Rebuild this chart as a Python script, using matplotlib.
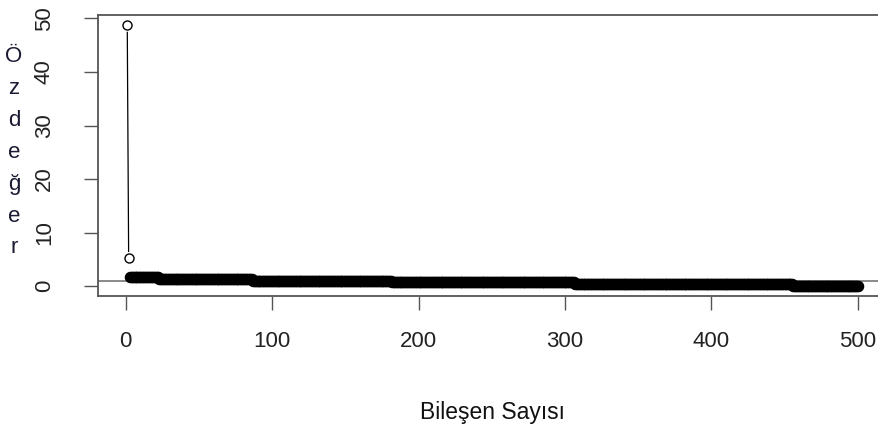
import numpy as np
import matplotlib
matplotlib.use("Agg")
import matplotlib.pyplot as plt

plt.rcParams['font.family'] = ['Liberation Sans', 'DejaVu Sans']

# Eigenvalues (500 components)
first_eigs = [48.7, 5.2]
# the remaining 498 values form flat steps in the picture: value and number of components
step_values = [1.8, 1.3, 1.0, 0.7, 0.45, 0.12]
step_counts = [20, 64, 95, 125, 149, 45]
x_ticks = [0, 100, 200, 300, 400, 500]
y_ticks = [0, 10, 20, 30, 40, 50]
x_label = "Bileşen Sayısı"
y_label = "Özdeğer"

eigs = np.concatenate([first_eigs, np.repeat(step_values, step_counts)])
comp = np.arange(1, len(eigs) + 1)

W, H = 879, 433
fig = plt.figure(figsize=(W / 100, H / 100), dpi=100)
left, right, top, bottom = 98, 887, 15, 296
ax = fig.add_axes([left / W, 1 - bottom / H, (right - left) / W, (bottom - top) / H])

# type="b": line between the first two points with gaps at the circles
y_gap = 1.3
ax.plot([1.05, 1.95], [eigs[0] - y_gap, eigs[1] + y_gap], color="black", lw=0.9, zorder=2)
ax.plot(comp[:2], eigs[:2], linestyle="none", marker="o", markersize=6.5,
        markerfacecolor="white", markeredgecolor="black", markeredgewidth=1.0, zorder=3)
ax.plot(comp[2:], eigs[2:], linestyle="none", marker="o", markersize=7.3,
        markerfacecolor="black", markeredgecolor="black", markeredgewidth=1.0, zorder=3)
ax.axhline(1, color="#777777", lw=1.2, zorder=1)

ax.margins(x=0.04, y=0.04)
ax.set_xticks(x_ticks)
ax.set_yticks(y_ticks)
ax.tick_params(axis="both", direction="out", length=10, width=1, color="#555555",
               labelsize=16, labelcolor="#222222")
ax.tick_params(axis="x", pad=15)
ax.tick_params(axis="y", labelrotation=90, pad=21)
for lab in ax.get_yticklabels():
    lab.set_verticalalignment("center")
for s in ax.spines.values():
    s.set_color("#555555")
    s.set_linewidth(1.3)

fig.text((left + right) / 2 / W, 1 - 413 / H, x_label, ha="center", va="center",
         fontsize=16.5, color="#111111")
# y label drawn as stacked letters
for i, ch in enumerate(y_label):
    fig.text(14 / W, 1 - (57 + i * 31.8) / H, ch, ha="center", va="center",
             fontsize=16, color="#1a1a33")

fig.savefig("out.png", dpi=100)
